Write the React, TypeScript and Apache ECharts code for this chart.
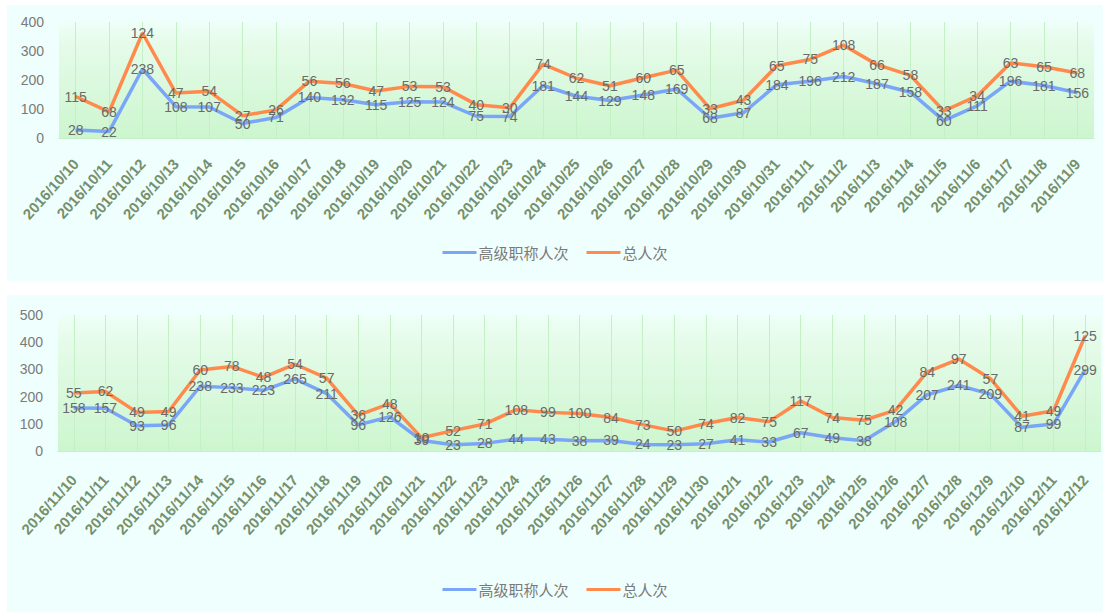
import React, { useEffect, useRef } from "react";
import * as echarts from "echarts";

const SERIES_A = "高级职称人次";
const SERIES_B = "总人次";

const topDates = [
  "2016/10/10", "2016/10/11", "2016/10/12", "2016/10/13", "2016/10/14", "2016/10/15",
  "2016/10/16", "2016/10/17", "2016/10/18", "2016/10/19", "2016/10/20", "2016/10/21",
  "2016/10/22", "2016/10/23", "2016/10/24", "2016/10/25", "2016/10/26", "2016/10/27",
  "2016/10/28", "2016/10/29", "2016/10/30", "2016/10/31", "2016/11/1", "2016/11/2",
  "2016/11/3", "2016/11/4", "2016/11/5", "2016/11/6", "2016/11/7", "2016/11/8", "2016/11/9",
];
const topSenior = [
  28, 22, 238, 108, 107, 50, 71, 140, 132, 115, 125, 124, 75, 74, 181, 144, 129, 148,
  169, 68, 87, 184, 196, 212, 187, 158, 60, 111, 196, 181, 156,
];
const topTotal = [
  115, 68, 124, 47, 54, 27, 26, 56, 56, 47, 53, 53, 40, 30, 74, 62, 51, 60, 65, 33, 43,
  65, 75, 108, 66, 58, 33, 34, 63, 65, 68,
];
const topTicks = { min: 0, max: 400, interval: 100 };

const bottomDates = [
  "2016/11/10", "2016/11/11", "2016/11/12", "2016/11/13", "2016/11/14", "2016/11/15",
  "2016/11/16", "2016/11/17", "2016/11/18", "2016/11/19", "2016/11/20", "2016/11/21",
  "2016/11/22", "2016/11/23", "2016/11/24", "2016/11/25", "2016/11/26", "2016/11/27",
  "2016/11/28", "2016/11/29", "2016/11/30", "2016/12/1", "2016/12/2", "2016/12/3",
  "2016/12/4", "2016/12/5", "2016/12/6", "2016/12/7", "2016/12/8", "2016/12/9",
  "2016/12/10", "2016/12/11", "2016/12/12",
];
const bottomSenior = [
  158, 157, 93, 96, 238, 233, 223, 265, 211, 96, 126, 39, 23, 28, 44, 43, 38, 39, 24, 23,
  27, 41, 33, 67, 49, 38, 108, 207, 241, 209, 87, 99, 299,
];
const bottomTotal = [
  55, 62, 49, 49, 60, 78, 48, 54, 57, 36, 48, 10, 52, 71, 108, 99, 100, 84, 73, 50, 74,
  82, 75, 117, 74, 75, 42, 84, 97, 57, 41, 49, 125,
];
const bottomTicks = { min: 0, max: 500, interval: 100 };

const BLUE = "#7aa6f8";
const ORANGE = "#ff8a4c";
const PANEL = "#effffd";

function buildOption(
  dates: string[],
  senior: number[],
  total: number[],
  ticks: { min: number; max: number; interval: number },
  grid: { left: number; right: number; top: number; bottom: number },
  plotHeight: number,
  legendTop: number,
  labelMargin: number
) {
  const labelStyle = {
    show: true,
    position: "inside",
    color: "#6a6a6a",
    fontSize: 14,
    fontFamily: "Liberation Sans, Arial, sans-serif",
  };
  return {
    animation: false,
    backgroundColor: PANEL,
    grid: {
      ...grid,
      show: true,
      borderWidth: 0,
      backgroundColor: new echarts.graphic.LinearGradient(0, 0, 0, 1, [
        { offset: 0, color: "#eefff8" },
        { offset: 0.2, color: "#e5fbe9" },
        { offset: 1, color: "#ccf6ce" },
      ]),
    },
    legend: {
      top: legendTop,
      left: "center",
      itemWidth: 34,
      itemHeight: 3,
      itemGap: 18,
      icon: "rect",
      textStyle: {
        color: "#7a7a7a",
        fontSize: 15,
        fontFamily: "Noto Sans CJK SC, sans-serif",
        padding: [0, 0, 0, -3],
      },
      data: [SERIES_A, SERIES_B],
    },
    xAxis: {
      type: "category",
      data: dates,
      boundaryGap: true,
      axisLine: { show: true, lineStyle: { color: "#c6f0c8", width: 1 } },
      axisTick: {
        show: true,
        alignWithLabel: true,
        inside: true,
        length: plotHeight,
        lineStyle: { color: "#c4f0c6", width: 1 },
      },
      splitLine: { show: false },
      axisLabel: {
        interval: 0,
        rotate: 48,
        color: "#76906c",
        fontSize: 15,
        fontWeight: "bold",
        fontFamily: "Liberation Sans, Arial, sans-serif",
        margin: labelMargin,
      },
    },
    yAxis: {
      type: "value",
      min: ticks.min,
      max: ticks.max,
      interval: ticks.interval,
      axisLine: { show: false },
      axisTick: { show: false },
      splitLine: { show: false },
      axisLabel: {
        color: "#7a7a7a",
        fontSize: 14,
        fontFamily: "Liberation Sans, Arial, sans-serif",
        margin: 15,
      },
    },
    series: [
      {
        name: SERIES_A,
        type: "line",
        stack: "total",
        data: senior,
        symbol: "circle",
        symbolSize: 1,
        lineStyle: { color: BLUE, width: 3.5 },
        itemStyle: { color: BLUE },
        label: labelStyle,
        z: 3,
      },
      {
        name: SERIES_B,
        type: "line",
        stack: "total",
        data: total,
        symbol: "circle",
        symbolSize: 1,
        lineStyle: { color: ORANGE, width: 3.5 },
        itemStyle: { color: ORANGE },
        label: labelStyle,
        z: 3,
      },
    ],
  };
}

function Chart(props: { option: any; style: React.CSSProperties }) {
  const ref = useRef<HTMLDivElement>(null);
  useEffect(() => {
    if (!ref.current) return;
    const chart = echarts.init(ref.current, undefined, { renderer: "svg" });
    chart.setOption(props.option);
    return () => chart.dispose();
  }, []);
  return <div ref={ref} style={props.style} />;
}

export default function App() {
  const topOption = buildOption(
    topDates,
    topSenior,
    topTotal,
    topTicks,
    { left: 52, right: 9, top: 17, bottom: 143 },
    116,
    235,
    23
  );
  const bottomOption = buildOption(
    bottomDates,
    bottomSenior,
    bottomTotal,
    bottomTicks,
    { left: 51, right: 2, top: 20, bottom: 161 },
    136,
    282,
    26
  );
  return (
    <div style={{ position: "fixed", left: 0, top: 0, width: 1103, height: 612, background: "#ffffff" }}>
      <Chart
        option={topOption}
        style={{ position: "absolute", left: 7, top: 5, width: 1096, height: 276 }}
      />
      <Chart
        option={bottomOption}
        style={{ position: "absolute", left: 7, top: 295, width: 1096, height: 317 }}
      />
    </div>
  );
}
